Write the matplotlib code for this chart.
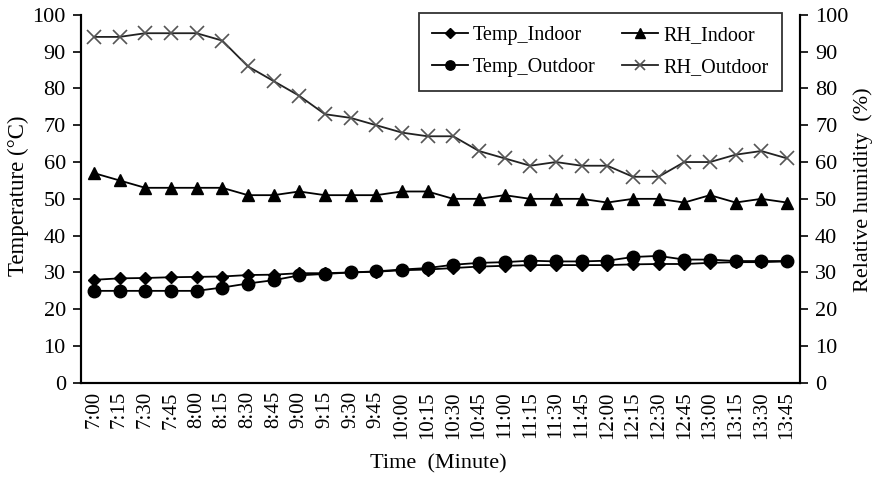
import matplotlib
matplotlib.use("Agg")
import matplotlib.pyplot as plt
import numpy as np

# Data
times = ["7:00", "7:15", "7:30", "7:45", "8:00", "8:15", "8:30", "8:45",
         "9:00", "9:15", "9:30", "9:45", "10:00", "10:15", "10:30", "10:45",
         "11:00", "11:15", "11:30", "11:45", "12:00", "12:15", "12:30", "12:45",
         "13:00", "13:15", "13:30", "13:45"]

temp_indoor = [28.0, 28.4, 28.5, 28.7, 28.8, 28.9, 29.3, 29.4, 29.8, 29.8,
               30.0, 30.2, 30.6, 30.8, 31.2, 31.6, 31.8, 32.0, 32.0, 32.0,
               32.0, 32.2, 32.3, 32.3, 32.6, 32.8, 32.8, 33.0]
temp_outdoor = [25.0, 25.0, 25.0, 25.0, 25.0, 25.9, 27.0, 27.9, 29.2, 29.6,
                30.0, 30.3, 30.8, 31.2, 32.1, 32.6, 32.8, 33.2, 33.0, 33.0,
                33.2, 34.2, 34.5, 33.5, 33.5, 33.1, 33.1, 33.1]
rh_indoor = [57, 55, 53, 53, 53, 53, 51, 51, 52, 51, 51, 51, 52, 52,
             50, 50, 51, 50, 50, 50, 49, 50, 50, 49, 51, 49, 50, 49]
rh_outdoor = [94, 94, 95, 95, 95, 93, 86, 82, 78, 73, 72, 70, 68, 67,
              67, 63, 61, 59, 60, 59, 59, 56, 56, 60, 60, 62, 63, 61]

plt.rcParams["font.family"] = ["Liberation Serif", "DejaVu Serif"]

fig = plt.figure(figsize=(8.77, 4.78), dpi=100)
ax = fig.add_axes([0.0924, 0.199, 0.8196, 0.770])
ax2 = ax.twinx()

x = np.arange(len(times))

# Temperature on the left axis
l1, = ax.plot(x, temp_indoor, color="black", lw=1.3, marker="D",
              markersize=6.5, label="Temp_Indoor")
l2, = ax.plot(x, temp_outdoor, color="black", lw=1.3, marker="o",
              markersize=9, label="Temp_Outdoor")

# Relative humidity on the right axis
l3, = ax2.plot(x, rh_indoor, color="black", lw=1.3, marker="^",
               markersize=9, label="RH_Indoor")
l4, = ax2.plot(x, rh_outdoor, color="#222222", lw=1.3, marker="x",
               markersize=10, markeredgewidth=1.2, markeredgecolor="#555555",
               label="RH_Outdoor")

for a in (ax, ax2):
    a.set_ylim(0, 100)
    a.set_yticks(range(0, 101, 10))
    a.spines["top"].set_visible(False)
    a.spines["left"].set_linewidth(1.5)
    a.spines["right"].set_linewidth(1.5)
    a.spines["bottom"].set_linewidth(1.5)
    a.tick_params(axis="y", direction="out", length=6, width=1.2,
                  labelsize=16, pad=5)

ax.set_xlim(-0.5, len(times) - 0.5)
ax.set_xticks(x)
ax.set_xticklabels(times, rotation=90)
ax.tick_params(axis="x", length=0, labelsize=15, pad=6)

ax.set_ylabel("Temperature (°C)", fontsize=16.5)
ax.yaxis.set_label_coords(-0.072, 0.508)
ax2.set_ylabel("Relative humidity  (%)", fontsize=16)
ax2.yaxis.set_label_coords(1.075, 0.524)
ax.set_xlabel("Time  (Minute)", fontsize=16)
ax.xaxis.set_label_coords(0.497, -0.193)

leg = ax2.legend(handles=[l1, l2, l3, l4], ncol=2, loc="upper right",
                 bbox_to_anchor=(0.975, 1.005), borderaxespad=0,
                 fontsize=14.5, frameon=True, fancybox=False,
                 edgecolor="black", handlelength=1.8, handletextpad=0.25,
                 columnspacing=1.3, borderpad=0.66, labelspacing=0.64,
                 markerscale=0.75)
leg.get_frame().set_linewidth(1.3)

fig.savefig("out.png", dpi=100)
